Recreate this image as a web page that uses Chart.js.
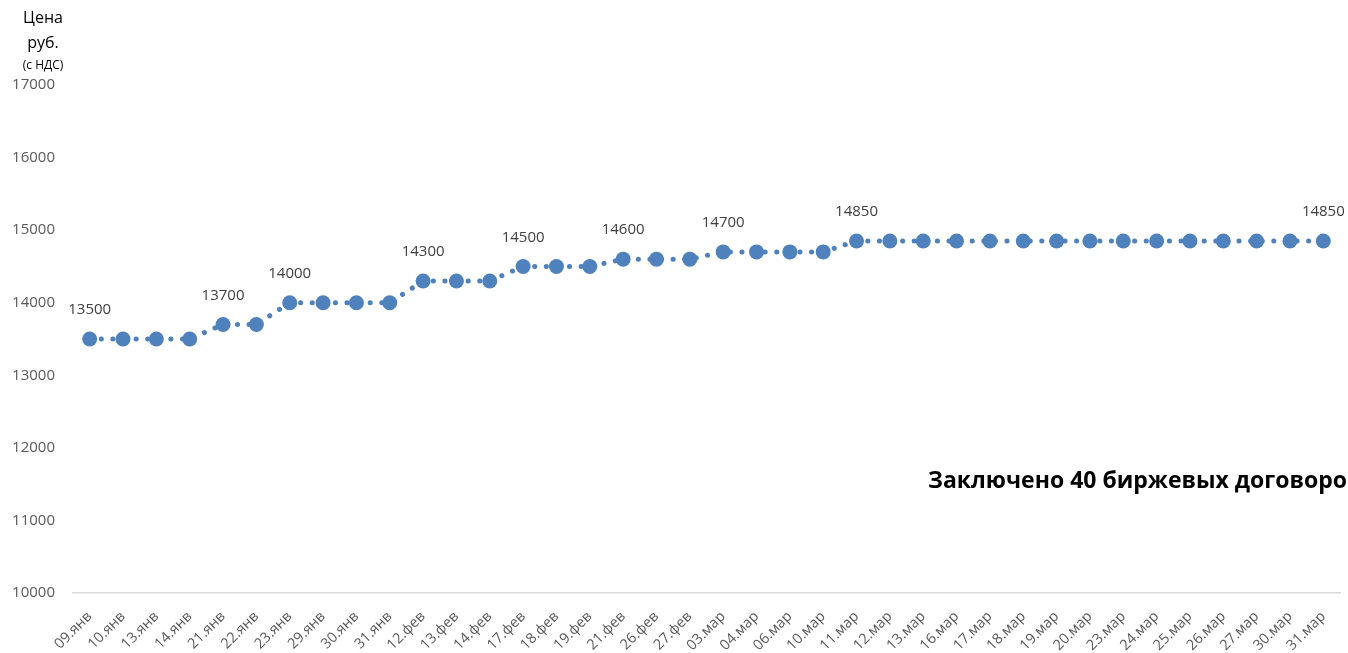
<!DOCTYPE html>
<html>
<head>
<meta charset="utf-8">
<script src="https://cdn.jsdelivr.net/npm/chart.js@4/dist/chart.umd.min.js"></script>
<style>
    html, body { margin: 0; padding: 0; background: #fff; overflow: hidden; }
    #wrap { position: relative; width: 1348px; height: 653px; }
</style>
</head>
<body>
<div id="wrap"><canvas id="myChart" width="1348" height="653"></canvas></div>
<script>
const labels = ['09.янв', '10.янв', '13.янв', '14.янв', '21.янв', '22.янв', '23.янв', '29.янв', '30.янв', '31.янв',
    '12.фев', '13.фев', '14.фев', '17.фев', '18.фев', '19.фев', '21.фев', '26.фев', '27.фев',
    '03.мар', '04.мар', '06.мар', '10.мар', '11.мар', '12.мар', '13.мар', '16.мар', '17.мар', '18.мар', '19.мар',
    '20.мар', '23.мар', '24.мар', '25.мар', '26.мар', '27.мар', '30.мар', '31.мар'];
const prices = [13500, 13500, 13500, 13500, 13700, 13700, 14000, 14000, 14000, 14000,
    14300, 14300, 14300, 14500, 14500, 14500, 14600, 14600, 14600,
    14700, 14700, 14700, 14700, 14850, 14850, 14850, 14850, 14850, 14850, 14850,
    14850, 14850, 14850, 14850, 14850, 14850, 14850, 14850];
const labeledPoints = [0, 4, 6, 10, 13, 16, 19, 23, 37];
const yTicks = [10000, 11000, 12000, 13000, 14000, 15000, 16000, 17000];
const yTitle = ['Цена', 'руб.', '(с НДС)'];
const note = 'Заключено 40 биржевых договоров';

const FONT = '"Open Sans", sans-serif';

const extras = {
    id: 'extras',
    afterDatasetsDraw(chart) {
        const ctx = chart.ctx;
        const meta = chart.getDatasetMeta(0);
        ctx.save();
        ctx.fillStyle = '#404040';
        ctx.font = '15px ' + FONT;
        ctx.textAlign = 'center';
        ctx.textBaseline = 'middle';
        labeledPoints.forEach(i => {
            const p = meta.data[i];
            ctx.fillText(String(prices[i]), p.x, p.y - 29);
        });

        // подпись оси Y
        ctx.fillStyle = '#000';
        ctx.font = '16px ' + FONT;
        ctx.fillText(yTitle[0], 43, 18);
        ctx.fillText(yTitle[1], 43, 43);
        ctx.font = '12px ' + FONT;
        ctx.fillText(yTitle[2], 43, 66);

        ctx.font = 'bold 23px ' + FONT;
        ctx.textAlign = 'left';
        ctx.fillText(note, 928, 481);
        ctx.restore();
    }
};

const ctx = document.getElementById('myChart').getContext('2d');
const myChart = new Chart(ctx, {
    type: 'line',
    data: {
        labels: labels,
        datasets: [{
            data: prices,
            borderColor: '#4F81BD',
            backgroundColor: '#4F81BD',
            borderWidth: 5,
            borderDash: [0.1, 11.5],
            borderCapStyle: 'round',
            pointRadius: 7.5,
            pointHoverRadius: 7.5,
            pointBorderWidth: 0,
            pointBackgroundColor: '#4F81BD',
            tension: 0
        }]
    },
    options: {
        responsive: false,
        animation: false,
        layout: { padding: { top: 85, right: 8, left: 0, bottom: 0 } },
        plugins: {
            legend: { display: false },
            tooltip: { enabled: false }
        },
        scales: {
            x: {
                offset: true,
                grid: { display: false, drawTicks: false },
                border: { display: true, color: '#d9d9d9', width: 1.5 },
                ticks: {
                    color: '#595959',
                    font: { size: 14.5, family: FONT },
                    minRotation: 45,
                    maxRotation: 45,
                    autoSkip: false,
                    padding: 15
                },
                afterFit(scale) {
                    scale.height = 60;
                    scale.paddingLeft = 0;
                    scale.paddingRight = 0;
                }
            },
            y: {
                min: 10000,
                max: 17000,
                grid: { display: false, drawTicks: false },
                border: { display: false },
                afterBuildTicks(scale) { scale.ticks = yTicks.map(v => ({ value: v })); },
                ticks: {
                    color: '#595959',
                    font: { size: 15, family: FONT },
                    padding: 18,
                    callback: v => String(v)
                },
                afterFit(scale) { scale.width = 73; }
            }
        }
    },
    plugins: [extras]
});
</script>
</body>
</html>
